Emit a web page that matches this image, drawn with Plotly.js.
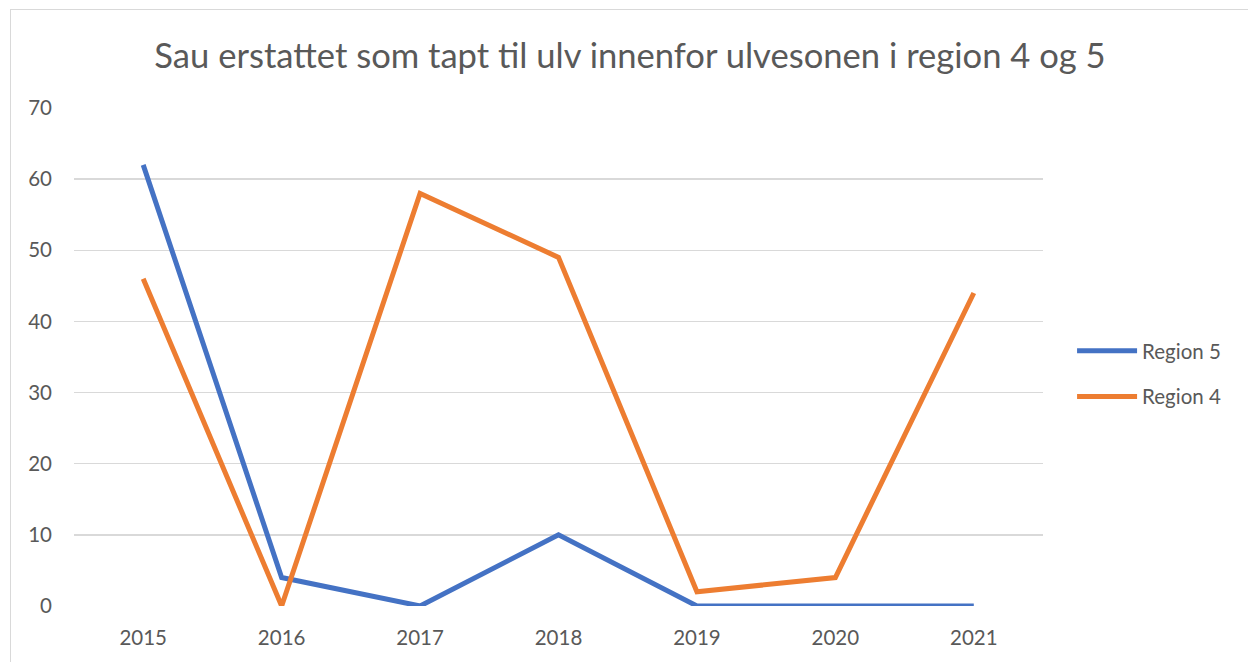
<!DOCTYPE html>
<html>
<head>
<meta charset="utf-8">
<script src="https://cdn.plot.ly/plotly-3.0.1.min.js"></script>
<style>
  html, body { margin: 0; padding: 0; background: #fff; overflow: hidden; }
  #frame { position: absolute; left: 10px; top: 9px; width: 1250px; height: 670px;
           border-left: 1px solid #d9d9d9; border-top: 1px solid #d9d9d9; }
  #chart { position: absolute; left: 0; top: 0; width: 1238px; height: 653px; }
</style>
</head>
<body>
<div id="frame"><div id="chart"></div></div>
<script>
const years = ["2015", "2016", "2017", "2018", "2019", "2020", "2021"];
const region5 = [62, 4, 0, 10, 0, 0, 0];
const region4 = [46, 0, 58, 49, 2, 4, 44];
const yTicks = [0, 10, 20, 30, 40, 50, 60, 70];

const font = "Lato, 'Open Sans', sans-serif";
const textColor = "#595959";

const traces = [
  { x: years, y: region5, name: "Region 5", type: "scatter", mode: "lines", legendgroup: "r5",
    line: { color: "#4472C4", width: 5 } },
  { x: years, y: region4, name: "Region 4", type: "scatter", mode: "lines", legendgroup: "r4",
    line: { color: "#ED7D31", width: 5 } }
];

const layout = {
  width: 1238, height: 653,
  margin: { l: 63, r: 206, t: 98, b: 57 },
  paper_bgcolor: "#fff", plot_bgcolor: "#fff",
  font: { family: font, color: textColor },
  title: { text: "Sau erstattet som tapt til ulv innenfor ulvesonen i region 4 og 5",
           font: { family: font, size: 34.6, color: textColor },
           x: 0.5, xref: "container", xanchor: "center",
           y: 0.93, yref: "container", yanchor: "middle" },
  xaxis: { type: "category", range: [-0.5, 6.5], showgrid: false, zeroline: false,
           showline: false, ticks: "", tickfont: { size: 20.5, color: textColor },
           ticklabelstandoff: 17 },
  yaxis: { range: [0, 70], tickvals: yTicks, showgrid: true, gridcolor: "#d9d9d9", gridwidth: 1.5,
           zeroline: false, showline: false, ticks: "",
           tickfont: { size: 20.5, color: textColor }, ticklabelstandoff: 21 },
  showlegend: true,
  legend: { x: 1.03, xanchor: "left", y: 0.466, yanchor: "middle",
            font: { size: 20.5, color: textColor }, itemwidth: 60, tracegroupgap: 16,
            bgcolor: "rgba(0,0,0,0)" }
};

Plotly.newPlot("chart", traces, layout, { displayModeBar: false, staticPlot: true });
</script>
</body>
</html>
